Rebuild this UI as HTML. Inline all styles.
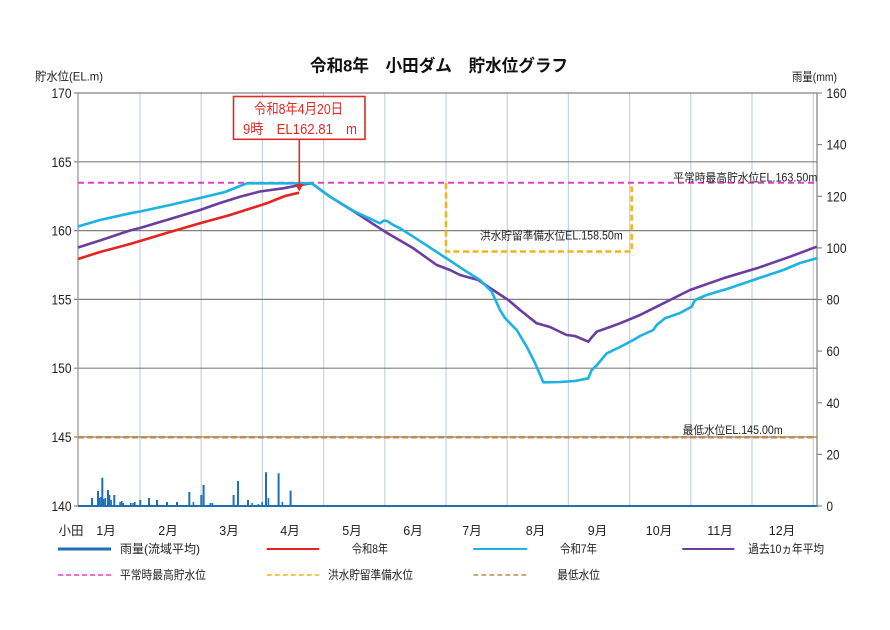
<!DOCTYPE html>
<html><head><meta charset="utf-8"><style>
html,body{margin:0;padding:0;background:#fff;}
svg{display:block;}
text{font-family:"Liberation Sans","Noto Sans CJK JP",sans-serif;}
</style></head><body>
<svg width="890" height="630" viewBox="0 0 890 630" xmlns="http://www.w3.org/2000/svg">
<rect width="890" height="630" fill="#fff"/>
<!-- title -->
<text x="310" y="66" font-size="17" font-weight="bold" dominant-baseline="central" textLength="258" lengthAdjust="spacingAndGlyphs" fill="#111">令和8年　小田ダム　貯水位グラフ</text>
<text x="35" y="76.5" font-size="12" dominant-baseline="central" textLength="68" lengthAdjust="spacingAndGlyphs" fill="#222">貯水位(EL.m)</text>
<text x="792" y="77" font-size="12" dominant-baseline="central" textLength="45" lengthAdjust="spacingAndGlyphs" fill="#222">雨量(mm)</text>

<!-- vertical gridlines -->
<g stroke="#c9d2de" stroke-width="1.2">
<line x1="140" y1="93" x2="140" y2="506"/>
<line x1="201.2" y1="93" x2="201.2" y2="506"/>
<line x1="262.4" y1="93" x2="262.4" y2="506"/>
<line x1="323.6" y1="93" x2="323.6" y2="506"/>
<line x1="384.8" y1="93" x2="384.8" y2="506"/>
<line x1="446" y1="93" x2="446" y2="506"/>
<line x1="507.2" y1="93" x2="507.2" y2="506"/>
<line x1="568.4" y1="93" x2="568.4" y2="506"/>
<line x1="629.6" y1="93" x2="629.6" y2="506"/>
<line x1="690.8" y1="93" x2="690.8" y2="506"/>
<line x1="752" y1="93" x2="752" y2="506"/>
<line x1="813.3" y1="93" x2="813.3" y2="506"/>
</g>
<!-- horizontal gridlines -->
<g stroke="#808080" stroke-width="1.2">
<line x1="74" y1="93" x2="817" y2="93"/>
<line x1="74" y1="161.8" x2="817" y2="161.8"/>
<line x1="74" y1="230.6" x2="817" y2="230.6"/>
<line x1="74" y1="299.4" x2="817" y2="299.4"/>
<line x1="74" y1="368.2" x2="817" y2="368.2"/>
<line x1="74" y1="437" x2="817" y2="437"/>
<line x1="74" y1="506" x2="78" y2="506"/>
</g>
<!-- axes -->
<line x1="78" y1="93" x2="78" y2="506" stroke="#999" stroke-width="1.3"/>
<line x1="817" y1="93" x2="817" y2="507" stroke="#888" stroke-width="1.3"/>
<g stroke="#888" stroke-width="1.2">
<line x1="817" y1="93" x2="822" y2="93"/>
<line x1="817" y1="144.6" x2="822" y2="144.6"/>
<line x1="817" y1="196.3" x2="822" y2="196.3"/>
<line x1="817" y1="247.9" x2="822" y2="247.9"/>
<line x1="817" y1="299.5" x2="822" y2="299.5"/>
<line x1="817" y1="351.1" x2="822" y2="351.1"/>
<line x1="817" y1="402.8" x2="822" y2="402.8"/>
<line x1="817" y1="454.4" x2="822" y2="454.4"/>
<line x1="817" y1="506" x2="822" y2="506"/>
</g>
<!-- left tick labels -->
<g font-size="14" fill="#222" text-anchor="end" dominant-baseline="central">
<text x="71.5" y="93" textLength="20" lengthAdjust="spacingAndGlyphs">170</text>
<text x="71.5" y="161.8" textLength="20" lengthAdjust="spacingAndGlyphs">165</text>
<text x="71.5" y="230.6" textLength="20" lengthAdjust="spacingAndGlyphs">160</text>
<text x="71.5" y="299.4" textLength="20" lengthAdjust="spacingAndGlyphs">155</text>
<text x="71.5" y="368.2" textLength="20" lengthAdjust="spacingAndGlyphs">150</text>
<text x="71.5" y="437" textLength="20" lengthAdjust="spacingAndGlyphs">145</text>
<text x="71.5" y="506" textLength="20" lengthAdjust="spacingAndGlyphs">140</text>
</g>
<!-- right tick labels -->
<g font-size="14" fill="#222" dominant-baseline="central">
<text x="826.5" y="93" textLength="20" lengthAdjust="spacingAndGlyphs">160</text>
<text x="826.5" y="144.6" textLength="20" lengthAdjust="spacingAndGlyphs">140</text>
<text x="826.5" y="196.3" textLength="20" lengthAdjust="spacingAndGlyphs">120</text>
<text x="826.5" y="247.9" textLength="20" lengthAdjust="spacingAndGlyphs">100</text>
<text x="826.5" y="299.5" textLength="13" lengthAdjust="spacingAndGlyphs">80</text>
<text x="826.5" y="351.1" textLength="13" lengthAdjust="spacingAndGlyphs">60</text>
<text x="826.5" y="402.8" textLength="13" lengthAdjust="spacingAndGlyphs">40</text>
<text x="826.5" y="454.4" textLength="13" lengthAdjust="spacingAndGlyphs">20</text>
<text x="826.5" y="506" textLength="6.5" lengthAdjust="spacingAndGlyphs">0</text>
</g>

<!-- reference lines -->
<line x1="78" y1="437.3" x2="817" y2="437.3" stroke="#c48a4e" stroke-width="2.5" stroke-dasharray="6,3"/>
<polyline points="446,183 446,251.5 631.7,251.5 631.7,183" fill="none" stroke="#f2b517" stroke-width="2.5" stroke-dasharray="6,3.5"/>
<line x1="78" y1="182.8" x2="817" y2="182.8" stroke="#e040c8" stroke-width="2" stroke-dasharray="6,4"/>

<text x="673.3" y="178.3" font-size="11.5" dominant-baseline="central" textLength="144" lengthAdjust="spacingAndGlyphs" fill="#222">平常時最高貯水位EL.163.50m</text>
<text x="480" y="236.7" font-size="11.5" dominant-baseline="central" textLength="142.7" lengthAdjust="spacingAndGlyphs" fill="#222">洪水貯留準備水位EL.158.50m</text>
<text x="682.7" y="431" font-size="11.5" dominant-baseline="central" textLength="100" lengthAdjust="spacingAndGlyphs" fill="#222">最低水位EL.145.00m</text>

<!-- rain bars -->
<g fill="#1f6fb8">
<rect x="91" y="498" width="2" height="8"/>
<rect x="97" y="491" width="2" height="15"/>
<rect x="98.6" y="498" width="1.6" height="8"/>
<rect x="100.2" y="497" width="1.6" height="9"/>
<rect x="101.3" y="477.7" width="2" height="28.3"/>
<rect x="103" y="499" width="1.6" height="7"/>
<rect x="104.6" y="498" width="1.6" height="8"/>
<rect x="107" y="490" width="2" height="16"/>
<rect x="108.7" y="495" width="1.6" height="11"/>
<rect x="110.3" y="500" width="1.6" height="6"/>
<rect x="113.3" y="495" width="2" height="11"/>
<rect x="119.3" y="502" width="1.6" height="4"/>
<rect x="121" y="501" width="1.6" height="5"/>
<rect x="122.6" y="503" width="1.6" height="3"/>
<rect x="130" y="503" width="1.6" height="3"/>
<rect x="132.3" y="503" width="1.6" height="3"/>
<rect x="134" y="502" width="1.6" height="4"/>
<rect x="139.3" y="500" width="2" height="6"/>
<rect x="148" y="498" width="2" height="8"/>
<rect x="156" y="500" width="2" height="6"/>
<rect x="166" y="502" width="2" height="4"/>
<rect x="176" y="502" width="2" height="4"/>
<rect x="188.3" y="492" width="2" height="14"/>
<rect x="192.6" y="502" width="1.6" height="4"/>
<rect x="200.3" y="495" width="2" height="11"/>
<rect x="202.6" y="485" width="2" height="21"/>
<rect x="209.6" y="503" width="1.6" height="3"/>
<rect x="211.6" y="503" width="1.6" height="3"/>
<rect x="232.6" y="495" width="2" height="11"/>
<rect x="237" y="481" width="2" height="25"/>
<rect x="247" y="500" width="2" height="6"/>
<rect x="251.3" y="503" width="1.6" height="3"/>
<rect x="257.6" y="504" width="1.6" height="2"/>
<rect x="261.3" y="502" width="1.6" height="4"/>
<rect x="265" y="472.3" width="2" height="33.7"/>
<rect x="267.6" y="498" width="1.6" height="8"/>
<rect x="277.6" y="473.3" width="2" height="32.7"/>
<rect x="281.6" y="502" width="1.6" height="4"/>
<rect x="289.6" y="490.7" width="2" height="15.3"/>
</g>
<line x1="78" y1="506" x2="817" y2="506" stroke="#1f6fb8" stroke-width="2"/>

<!-- series -->
<polyline fill="none" stroke="#6a3d9f" stroke-width="2.6" stroke-linejoin="round" points="78,247.5 100,240.5 130,230.5 140,228 170,219 200,210 220,203 240,196.7 260,191.5 283.3,188.3 300,185 311.7,183.3 330,196.7 356.7,213.3 385,231.7 413.3,248.3 436.7,265 450,270 460,275 478.3,280 490,288 508.3,300 520,310 536.7,323.3 550,327 566.7,335 575,336 588.3,341.7 592,337 596.7,331.7 610,327 620,323.3 640,315 656.7,306.7 670,300 690,290 723.3,278.3 756.7,268.3 790,256.7 816.7,246.7"/>
<polyline fill="none" stroke="#1cb2e4" stroke-width="2.6" stroke-linejoin="round" points="78,226.5 100,220 130,213.3 140,211.5 170,205 200,198 225,192 240,186 247,183.3 311.7,183.3 330,196.7 355,211.7 380,223.3 384,220.5 387,221 393.3,225 400,228.3 413.3,236.7 446.7,258.5 466.7,271.7 480,280 491.7,291.7 500,310 505,318 516.7,330 526.7,346.7 535,363 543.3,382.3 560,382 575,381 588.3,378.3 591.7,370 597,365 606.7,353.3 620,347 633.3,340 640,336 653.3,330 656.7,325 665,318.3 680,313 691.7,306.7 695,300 706.7,295 730,288 753.3,280 783.3,270 800,263 816.7,258.3"/>
<polyline fill="none" stroke="#e8231f" stroke-width="2.6" stroke-linejoin="round" points="78,259 100,252 130,244 170,232 200,223.3 230,215 266.7,203.3 285,196 299,192.7"/>

<!-- annotation -->
<rect x="233.5" y="96.5" width="131.5" height="42.8" fill="#fff" stroke="#e02b25" stroke-width="1.6"/>
<text x="254" y="110" font-size="14.5" dominant-baseline="central" textLength="89" lengthAdjust="spacingAndGlyphs" fill="#e02b25">令和8年4月20日</text>
<text x="243" y="130" font-size="14.5" dominant-baseline="central" textLength="114" lengthAdjust="spacingAndGlyphs" fill="#e02b25">9時　EL162.81　m</text>
<line x1="299.3" y1="139.3" x2="299.3" y2="185" stroke="#e02b25" stroke-width="1.6"/>
<polygon points="295,184 303.6,184 299.3,191.5" fill="#e02b25"/>

<!-- month labels -->
<g font-size="12.5" fill="#222" dominant-baseline="central" text-anchor="middle">
<text x="71" y="531">小田</text>
<text x="106" y="531">1月</text>
<text x="168" y="531">2月</text>
<text x="229" y="531">3月</text>
<text x="290" y="531">4月</text>
<text x="352" y="531">5月</text>
<text x="413" y="531">6月</text>
<text x="472" y="531">7月</text>
<text x="535.5" y="531">8月</text>
<text x="597.5" y="531">9月</text>
<text x="659" y="531">10月</text>
<text x="720" y="531">11月</text>
<text x="782" y="531">12月</text>
</g>

<!-- legend -->
<line x1="58" y1="549" x2="111" y2="549" stroke="#1f6fb8" stroke-width="3"/>
<line x1="266.7" y1="549" x2="319" y2="549" stroke="#e8231f" stroke-width="2"/>
<line x1="473.3" y1="549" x2="527.3" y2="549" stroke="#1cb2e4" stroke-width="2"/>
<line x1="682.3" y1="549" x2="734.3" y2="549" stroke="#6a3d9f" stroke-width="2"/>
<line x1="58" y1="575" x2="111" y2="575" stroke="#e040c8" stroke-width="1.5" stroke-dasharray="5,3"/>
<line x1="266.7" y1="575" x2="319" y2="575" stroke="#f2b517" stroke-width="1.5" stroke-dasharray="5,3"/>
<line x1="473.3" y1="575" x2="527.3" y2="575" stroke="#c48a4e" stroke-width="1.5" stroke-dasharray="5,3"/>
<g font-size="12" fill="#222" dominant-baseline="central">
<text x="120" y="549" textLength="80" lengthAdjust="spacingAndGlyphs">雨量(流域平均)</text>
<text x="351.7" y="549" textLength="36.5" lengthAdjust="spacingAndGlyphs">令和8年</text>
<text x="560" y="549" textLength="37" lengthAdjust="spacingAndGlyphs">令和7年</text>
<text x="748.3" y="549" textLength="75.7" lengthAdjust="spacingAndGlyphs">過去10ヵ年平均</text>
<text x="120" y="575" textLength="86" lengthAdjust="spacingAndGlyphs">平常時最高貯水位</text>
<text x="328" y="575" textLength="85" lengthAdjust="spacingAndGlyphs">洪水貯留準備水位</text>
<text x="557.3" y="575" textLength="42.7" lengthAdjust="spacingAndGlyphs">最低水位</text>
</g>
</svg>
</body></html>
